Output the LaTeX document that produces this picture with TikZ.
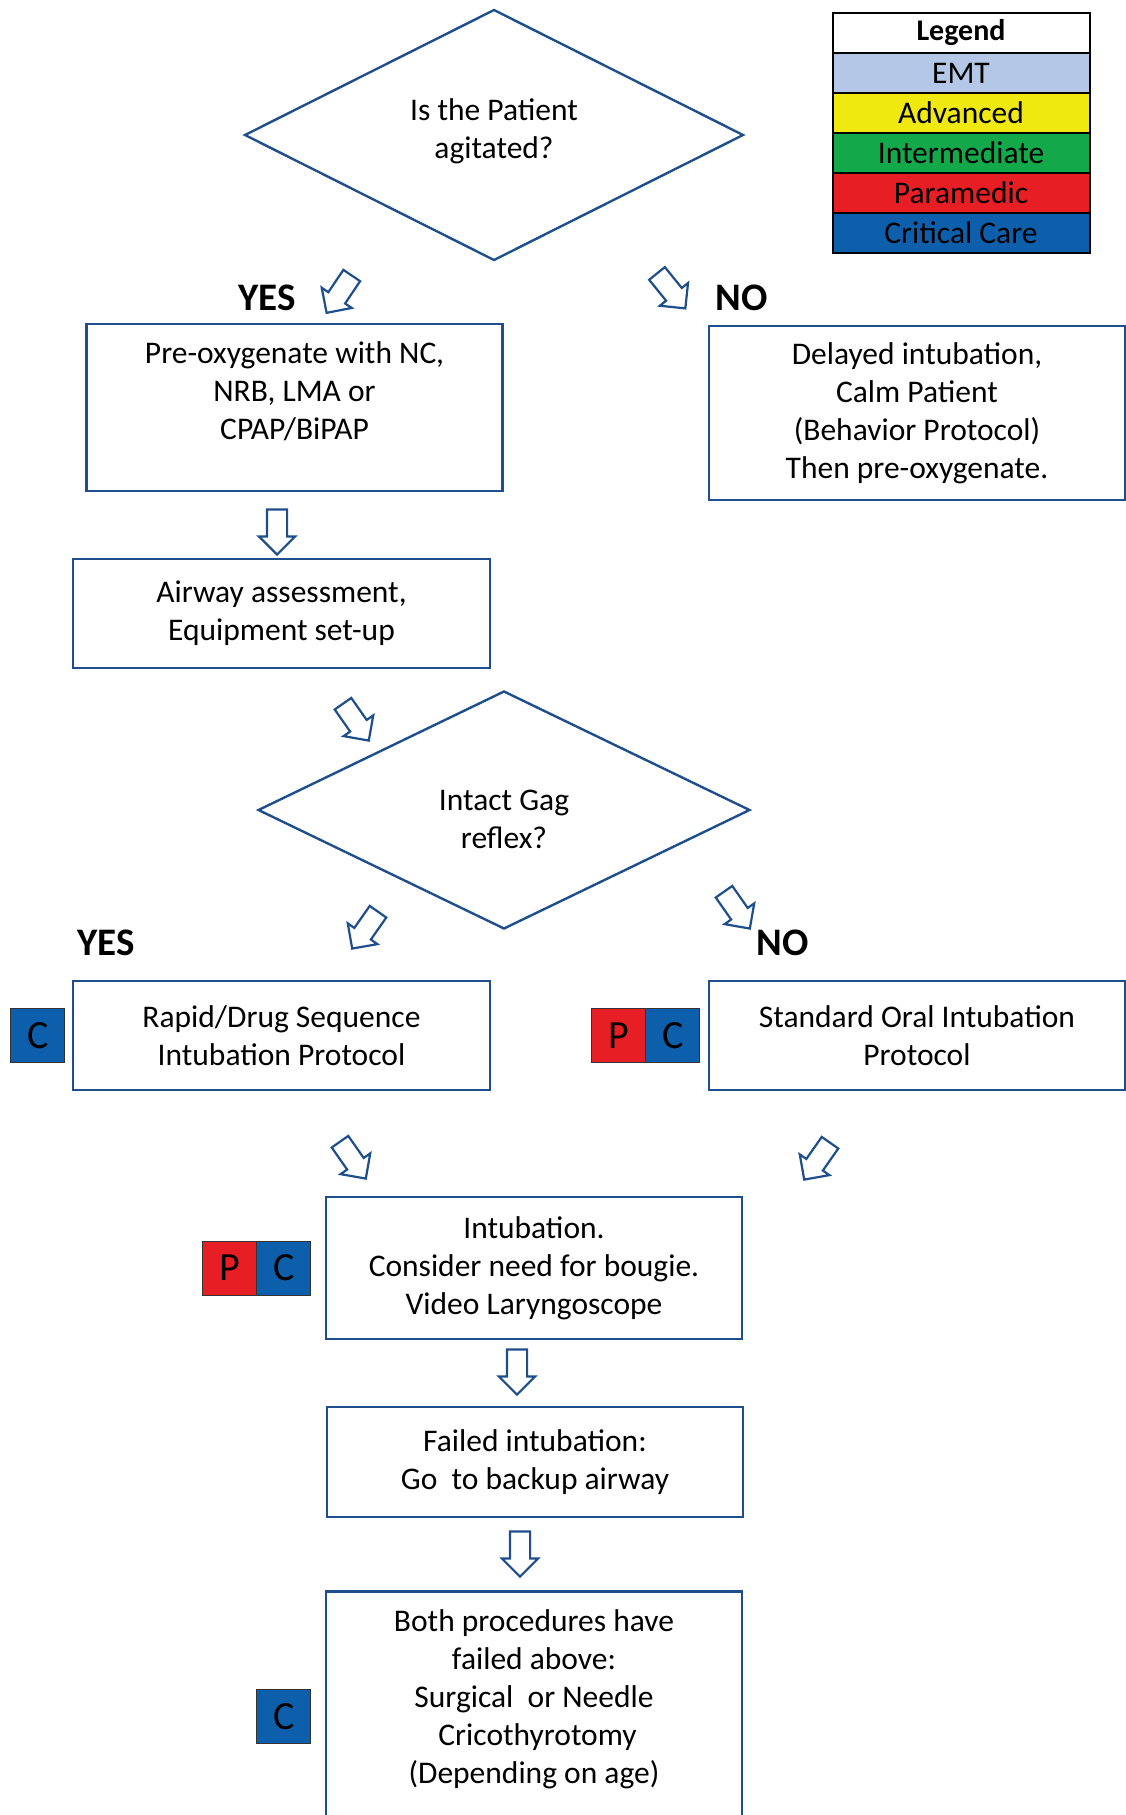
\documentclass[tikz,border=0pt]{standalone}
\usepackage{fontspec}
\setmainfont{Carlito}
\usetikzlibrary{positioning,shapes.geometric,shapes.arrows,calc}
\definecolor{flowblue}{RGB}{31,78,140}
\definecolor{emtcolor}{RGB}{180,199,231}
\definecolor{advcolor}{RGB}{240,233,15}
\definecolor{intcolor}{RGB}{19,168,74}
\definecolor{medcolor}{RGB}{232,30,37}
\definecolor{critcolor}{RGB}{14,95,171}

\begin{document}
\begin{tikzpicture}[
    x=1pt, y=-1pt,
    stepbox/.style={rectangle, draw=flowblue, line width=2.6pt, minimum width=416pt, align=center, inner sep=0pt, font=\fontsize{31.5}{38}\selectfont},
    decision/.style={diamond, draw=flowblue, line width=2.4pt, align=center, inner sep=0pt, font=\fontsize{31.5}{38}\selectfont},
    blockarrow/.style={single arrow, draw=flowblue, line width=2.2pt, fill=white, minimum height=45pt, inner xsep=0pt, inner ysep=9pt, single arrow head extend=8pt},
    answer/.style={anchor=base, inner sep=0pt, font=\fontsize{39}{44}\selectfont\bfseries},
    badge/.style={rectangle, draw=black!80, line width=0.8pt, minimum size=54pt, inner sep=0pt, outer sep=0pt, font=\fontsize{40}{44}\selectfont},
    legendrow/.style={rectangle, draw=black, line width=2pt, minimum width=257pt, minimum height=40pt, inner sep=0pt, outer sep=0pt, font=\fontsize{31.5}{34}\selectfont}
]
\useasboundingbox (0,0) rectangle (1126,1815);
\clip (0,0) rectangle (1126,1815);

% ===== FIRST DECISION =====
\node[decision, minimum width=499pt, minimum height=251pt, text height=52pt] (agitated) at (494,135) {Is the Patient\\agitated?};

% ===== LEGEND =====
\node[legendrow, font=\fontsize{30}{34}\selectfont\bfseries] (leghead) at (961,33) {Legend};
\node[legendrow, fill=emtcolor, below=0pt of leghead] (legemt) {EMT};
\node[legendrow, fill=advcolor, below=0pt of legemt] (legadv) {Advanced};
\node[legendrow, fill=intcolor, below=0pt of legadv] (legint) {Intermediate};
\node[legendrow, fill=medcolor, below=0pt of legint] (legmed) {Paramedic};
\node[legendrow, fill=critcolor, below=0pt of legmed] (legcrit) {Critical Care};

% ===== AGITATED: YES / NO =====
\node[answer] (yes1) at (267,310) {YES};
\node[answer] (no1) at (742,310) {NO};
\node[blockarrow, rotate=-124] (yesarr1) at (342,290) {};
\node[blockarrow, rotate=-51] (noarr1) at (668,287) {};

\node[stepbox, minimum height=167pt, text depth=33pt] (preox) at (294.5,407.5) {Pre-oxygenate with NC,\\NRB, LMA or\\CPAP/BiPAP};
\node[stepbox, minimum height=174pt] (delayed) at (917,413) {Delayed intubation,\\Calm Patient\\(Behavior Protocol)\\Then pre-oxygenate.};

\node[blockarrow, rotate=-90] (downarr1) at (277,527) {};
\node[stepbox, minimum width=417pt, minimum height=109pt] (airway) at (281.5,613.5) {Airway assessment,\\Equipment set-up};
\node[blockarrow, rotate=-55] (gagarr) at (353,718) {};

% ===== SECOND DECISION =====
\node[decision, minimum width=492pt, minimum height=238pt, text height=77pt] (gag) at (504,810) {Intact Gag\\reflex?};

\node[blockarrow, rotate=-125] (yesarr2) at (368,926) {};
\node[blockarrow, rotate=-55] (noarr2) at (734,906) {};
\node[answer] (yes2) at (106,955) {YES};
\node[answer] (no2) at (783,955) {NO};

\node[stepbox, minimum width=417pt, minimum height=109pt] (rapid) at (281.5,1035.5) {Rapid/Drug Sequence\\Intubation Protocol};
\node[badge, fill=critcolor, left=7pt of rapid] (rapidc) {C};

\node[stepbox, minimum height=109pt] (oral) at (917,1035.5) {Standard Oral Intubation\\Protocol};
\node[badge, fill=critcolor, left=8pt of oral] (oralc) {C};
\node[badge, fill=medcolor, left=0pt of oralc] (oralp) {P};

\node[blockarrow, rotate=-55] (rapidarr) at (350,1156) {};
\node[blockarrow, rotate=-125] (oralarr) at (820,1157) {};

% ===== INTUBATION =====
\node[stepbox, minimum height=142pt] (intub) at (534,1268) {Intubation.\\Consider need for bougie.\\Video Laryngoscope};
\node[badge, fill=critcolor, left=14pt of intub] (intubc) {C};
\node[badge, fill=medcolor, left=0pt of intubc] (intubp) {P};

\node[blockarrow, rotate=-90] (downarr2) at (517,1367) {};
\node[stepbox, minimum height=110pt] (failed) at (535,1462) {Failed intubation:\\Go\ \ to backup airway};
\node[blockarrow, rotate=-90] (downarr3) at (520,1549) {};

\node[stepbox, anchor=north, minimum height=250pt, text depth=40pt] (crico) at (534,1590) {Both procedures have\\failed above:\\Surgical\ \ or Needle\\\ Cricothyrotomy\\(Depending on age)};
\node[badge, fill=critcolor, left=14pt of crico] (cricoc) {C};

\end{tikzpicture}
\end{document}
